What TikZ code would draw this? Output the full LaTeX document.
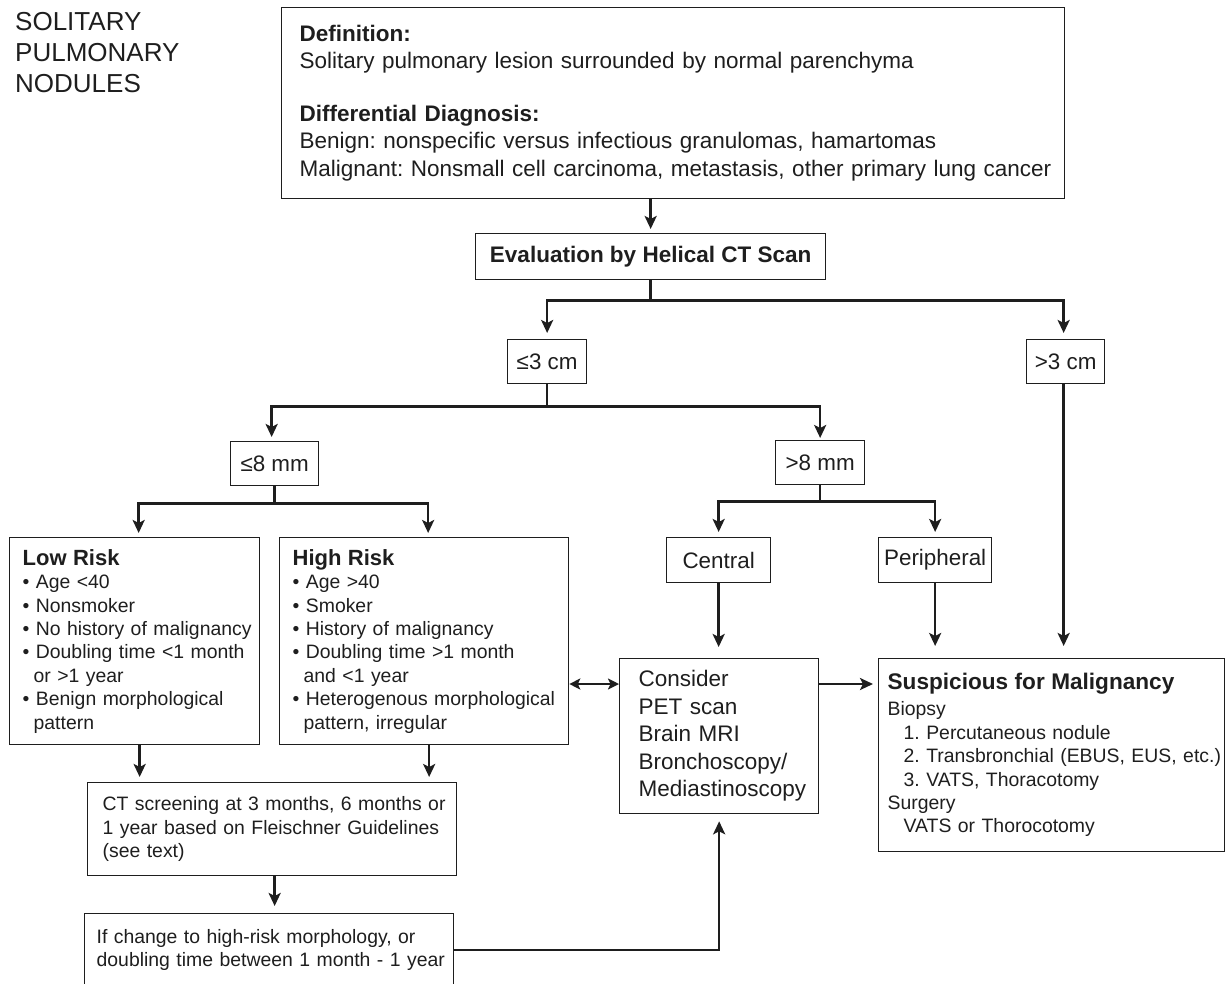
\documentclass[tikz,border=0pt]{standalone}
\usepackage{fontspec}
\setmainfont{Liberation Sans}
\usetikzlibrary{arrows.meta}
\definecolor{ink}{HTML}{1E1E1E}
% type sizes (1pt = 1 output pixel)
\newcommand\fbig{\fontsize{22.5}{27.5}\selectfont}
\newcommand\fsmall{\fontsize{19.4}{23.4}\selectfont}
\newcommand\fhead{\fontsize{22}{24}\selectfont\bfseries}
\newcommand\lsk[1]{\leftskip=#1\relax}
\newcommand\bul{\textbullet\ }
\newcommand\cont{\hspace*{11pt}}
\newcommand\ind{\hspace*{16pt}}
\begin{document}
\frenchspacing
\begin{tikzpicture}[x=1pt,y=-1pt,
  box/.style={draw=ink, line width=1.3pt, text=ink, inner sep=0pt, anchor=north west},
  panel/.style={box, align=left},
  tag/.style={box, minimum height=44pt, font=\fontsize{22.4}{26}\selectfont},
  conn/.style={draw=ink, line width=2.6pt},
  arr/.style={conn, -{Stealth[length=13pt,width=12pt,inset=3pt]}},
  dbl/.style={conn, {Stealth[length=11pt,width=11pt,inset=2.5pt]}-{Stealth[length=11pt,width=11pt,inset=2.5pt]}}]
\useasboundingbox (0,0) rectangle (1226,983);

% heading
\node[text=ink, font=\fontsize{26}{31.3}\selectfont, align=left, inner sep=0pt, anchor=north west]
  (title) at (15,11.8) {SOLITARY\\PULMONARY\\NODULES};

% definition box
\node[panel, text width=783pt, minimum height=191pt, font=\fbig] (defbox) at (281,7)
  {\lsk{18pt}\textbf{Definition:}\\
   Solitary pulmonary lesion surrounded by normal parenchyma\\[25pt]
   \textbf{Differential Diagnosis:}\\
   Benign: nonspecific versus infectious granulomas, hamartomas\\
   Malignant: Nonsmall cell carcinoma, metastasis, other primary lung cancer\par};

\node[box, minimum width=350pt, minimum height=46pt, font=\fbig\bfseries] (eval) at (475,233)
  {Evaluation by Helical CT Scan};

% size branches
\node[tag, minimum width=79pt] (le3) at (507,339) {≤3 cm};
\node[tag, minimum width=78pt] (gt3) at (1026,339) {>3 cm};
\node[tag, minimum width=88pt] (le8) at (230,441) {≤8 mm};
\node[tag, minimum width=89pt] (gt8) at (775,440) {>8 mm};
\node[tag, minimum width=104pt, minimum height=45pt] (central) at (666,537) {Central};
\node[tag, minimum width=113pt, minimum height=45pt] (periph) at (878,537) {Peripheral};

% risk boxes
\node[panel, text width=250pt, minimum height=207pt, font=\fsmall] (lo) at (9,537)
  {\lsk{13pt}{\fhead Low Risk}\\
   \bul Age <40\\
   \bul Nonsmoker\\
   \bul No history of malignancy\\
   \bul Doubling time <1 month\\
   \cont or >1 year\\
   \bul Benign morphological\\
   \cont pattern\par};
\node[panel, text width=289pt, minimum height=207pt, font=\fsmall] (hi) at (279,537)
  {\lsk{13pt}{\fhead High Risk}\\
   \bul Age >40\\
   \bul Smoker\\
   \bul History of malignancy\\
   \bul Doubling time >1 month\\
   \cont and <1 year\\
   \bul Heterogenous morphological\\
   \cont pattern, irregular\par};

\node[panel, text width=199pt, minimum height=155pt, font=\fbig] (consider) at (619,658)
  {\lsk{19pt}Consider\\ PET scan\\ Brain MRI\\ Bronchoscopy/\\ Mediastinoscopy\par};

\node[panel, text width=346pt, minimum height=193pt, font=\fsmall] (susp) at (878,658)
  {\lsk{9pt}{\fontsize{22.6}{26}\selectfont\bfseries Suspicious for Malignancy}\\[2.6pt]
   Biopsy\\
   \ind 1. Percutaneous nodule\\
   \ind 2. Transbronchial (EBUS, EUS, etc.)\\
   \ind 3. VATS, Thoracotomy\\
   Surgery\\
   \ind VATS or Thorocotomy\par};

\node[panel, text width=369pt, minimum height=93pt, font=\fsmall] (ct) at (87,782)
  {\lsk{15pt}CT screening at 3 months, 6 months or\\
   1 year based on Fleischner Guidelines\\
   (see text)\par};

\node[panel, text width=369pt, minimum height=73pt, font=\fsmall] (bot) at (84,913)
  {\lsk{12pt}If change to high-risk morphology, or\\
   doubling time between 1 month - 1 year\par};

% connectors
\draw[arr, shorten >=4pt] (defbox.south -| eval.north) -- (eval.north);
\draw[arr, shorten >=6pt] (eval.south) -- ++(0,20) -| (le3.north);
\draw[arr, shorten >=6pt] (eval.south) -- ++(0,20) -| ([xshift=-2pt]gt3.north);
\draw[arr, shorten >=4pt] (le3.south) -- ++(0,22) -| ([xshift=-3pt]le8.north);
\draw[arr, shorten >=2pt] (le3.south) -- ++(0,22) -| (gt8.north);
\draw[arr, shorten >=4pt] (le8.south) -- ++(0,17) -| ([xshift=4pt]lo.north);
\draw[arr, shorten >=4pt] (le8.south) -- ++(0,17) -| ([xshift=4pt]hi.north);
\draw[arr, shorten >=5pt] (gt8.south) -- ++(0,16) -| (central.north);
\draw[arr, shorten >=5pt] (gt8.south) -- ++(0,16) -| (periph.north);
\draw[arr, shorten >=11pt] (central.south) -- (central.south |- consider.north);
\draw[arr, shorten >=12pt] (periph.south) -- (periph.south |- susp.north);
\draw[arr, shorten >=12pt] ([xshift=-2pt]gt3.south) -- ([xshift=-2pt]gt3.south |- susp.north);
\draw[arr, shorten >=5pt] ([xshift=5pt]lo.south) -- ([xshift=5pt]lo.south |- ct.north);
\draw[arr, shorten >=5pt] ([xshift=5pt]hi.south) -- ([xshift=5pt]hi.south |- ct.north);
\draw[arr, shorten >=7pt] ([xshift=2.5pt]ct.south) -- ([xshift=2.5pt]ct.south |- bot.north);
\draw[arr, shorten >=7pt] (bot.east) -| (consider.south);
\coordinate (cw) at ([yshift=-26pt]consider.north west);
\draw[dbl] (hi.east |- cw) -- (cw);
\draw[arr, shorten >=5pt] (consider.east |- cw) -- (susp.west |- cw);
\end{tikzpicture}
\end{document}
